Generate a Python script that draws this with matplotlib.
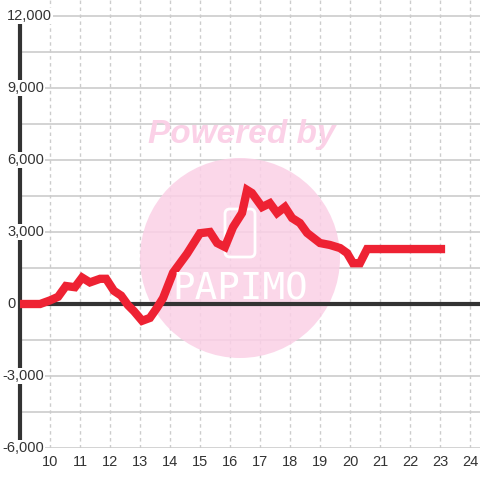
import matplotlib
matplotlib.use("Agg")
import matplotlib.pyplot as plt
import matplotlib.transforms as mtransforms
from matplotlib.patches import Circle, FancyBboxPatch

plt.rcParams['font.family'] = ['Liberation Sans', 'DejaVu Sans']

# data
hours = [9.0, 9.67, 10.0, 10.27, 10.53, 10.83, 11.07, 11.33, 11.67, 11.87, 12.13, 12.37,
         12.6, 12.8, 13.07, 13.33, 13.57, 13.77, 14.1, 14.57, 15.0, 15.33, 15.57, 15.83,
         16.1, 16.4, 16.57, 16.73, 17.07, 17.33, 17.57, 17.83, 18.07, 18.33, 18.57, 19.0,
         19.33, 19.67, 19.9, 20.1, 20.33, 20.57, 23.17]
values = [0, 0, 150, 300, 750, 700, 1100, 900, 1050, 1050, 550, 350,
          -50, -300, -700, -580, -150, 250, 1300, 2100, 2950, 3000, 2540, 2375,
          3200, 3790, 4750, 4625, 4040, 4200, 3790, 4040, 3580, 3375, 2960, 2540,
          2460, 2330, 2125, 1700, 1700, 2290, 2290]
x_ticks = list(range(10, 25))
y_ticks = [12000, 9000, 6000, 3000, 0, -3000, -6000]
y_tick_labels = ["12,000", "9,000", "6,000", "3,000", "0", "-3,000", "-6,000"]

W, H = 480, 480
fig = plt.figure(figsize=(4.8, 4.8), dpi=100)
fig.patch.set_facecolor('white')
ax = fig.add_axes([20 / W, 1 - 448 / H, 460 / W, 448 / H])
ax.set_xlim(9, 24.333)
ax.set_ylim(-6000, 12667)
ax.set_facecolor('white')

for s in ['top', 'right', 'bottom']:
    ax.spines[s].set_visible(False)
ax.spines['left'].set_color('#333333')
ax.spines['left'].set_linewidth(3)
ax.spines['left'].set_bounds(-6000, 12000)
ax.spines['left'].set_zorder(3)

# grid
for yv in range(-6000, 12001, 1500):
    ax.axhline(yv, color='#cccccc', lw=1.2, zorder=1)
for xv in x_ticks:
    ax.axvline(xv, color='#cccccc', lw=1, ls=(0, (2.5, 2.5)), zorder=1)

ax.set_xticks([])
ax.set_yticks([])

# watermark
ax.add_patch(Circle((240, H - 258), 100, transform=None, facecolor='#fbd0e6', alpha=0.85,
                    edgecolor='none', zorder=2))
fig.text(242 / W, 1 - 134 / H, "Powered by", fontsize=24, fontweight='bold', style='italic',
         color='#fbcfe6', alpha=0.95, ha='center', va='center', zorder=2)
ax.add_patch(FancyBboxPatch((225, H - 257), 30, 48, boxstyle='round,pad=0,rounding_size=5',
                            transform=None, facecolor='none', edgecolor='white', lw=2, zorder=2.5))
fig.text(240 / W, 1 - 289 / H, "PAPIMO", fontsize=27, color='white', ha='center', va='center',
         family='DejaVu Sans Mono', zorder=2.5)

# zero line
ax.axhline(0, color='#333333', lw=3, zorder=3)

# series
ax.plot(hours, values, color='#ee2233', lw=6, solid_joinstyle='miter', solid_capstyle='butt', zorder=4)

# y labels
tr = mtransforms.blended_transform_factory(fig.transFigure, ax.transData)
for yv, lab in zip(y_ticks, y_tick_labels):
    xpos = 2 if yv < 0 else 7
    ax.text(xpos / W, yv, lab, transform=tr, ha='left', va='center', fontsize=10.5,
            color='#333333', zorder=5, clip_on=False,
            bbox=dict(facecolor='white', edgecolor='none', pad=1))

# x labels
trx = mtransforms.blended_transform_factory(ax.transData, fig.transFigure)
for xv in x_ticks:
    ax.text(xv, 1 - 462 / H, str(xv), transform=trx, ha='center', va='center', fontsize=10.5,
            color='#333333', clip_on=False)

fig.savefig("out.png", dpi=100)
